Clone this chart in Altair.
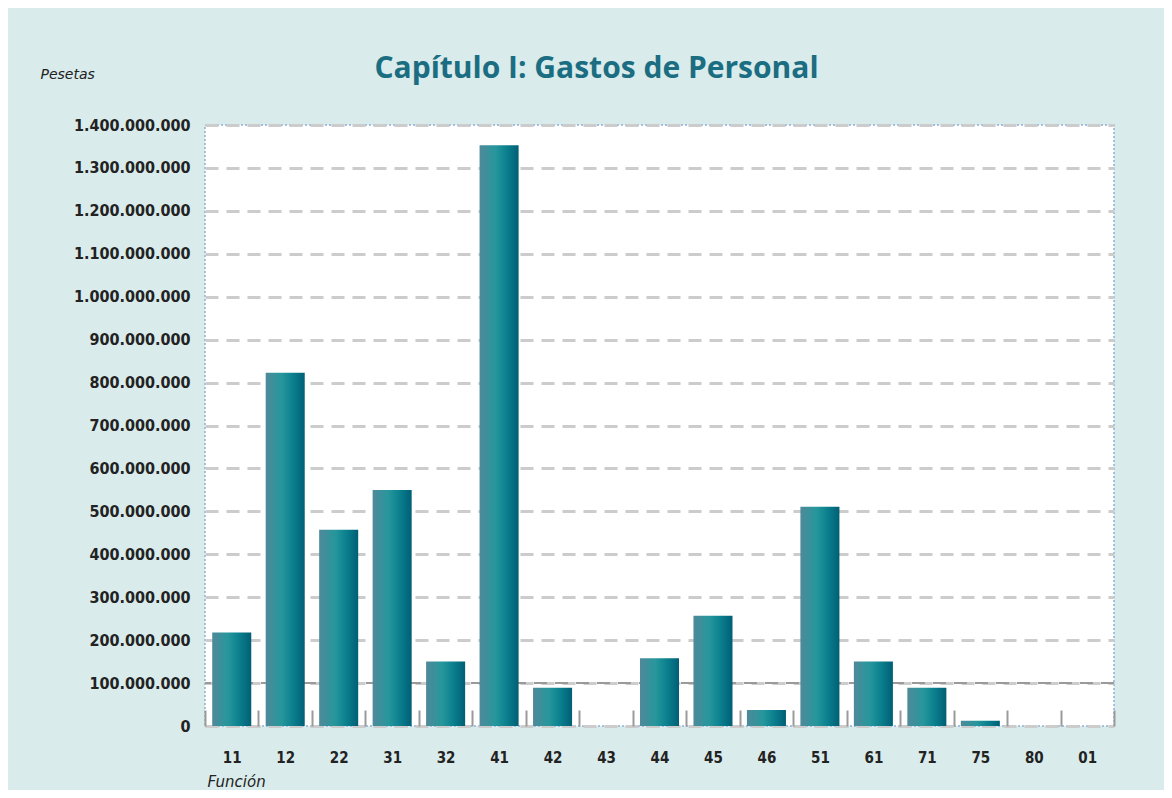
import altair as alt
import pandas as pd

categories = ["11", "12", "22", "31", "32", "41", "42", "43", "44", "45",
              "46", "51", "61", "71", "75", "80", "01"]
values = [218e6, 823e6, 457e6, 550e6, 150e6, 1353e6, 89e6, 0, 158e6, 257e6,
          37e6, 511e6, 150e6, 89e6, 12e6, 0, 0]
y_ticks = [0, 100000000, 200000000, 300000000, 400000000, 500000000,
           600000000, 700000000, 800000000, 900000000, 1000000000,
           1100000000, 1200000000, 1300000000, 1400000000]
highlight_line = [100000000]

df = pd.DataFrame({"funcion": categories, "pesetas": values})
df_rule = pd.DataFrame({"v": highlight_line})

LABEL_FONT = "DejaVu Sans Condensed, DejaVu Sans, sans-serif"

gradient = alt.Gradient(
    gradient="linear",
    stops=[
        alt.GradientStop(color="#50899a", offset=0),
        alt.GradientStop(color="#26979c", offset=0.4),
        alt.GradientStop(color="#0a7f8e", offset=0.7),
        alt.GradientStop(color="#005f74", offset=1),
    ],
    x1=0, x2=1, y1=0, y2=0,
)

x_enc = alt.X(
    "funcion:N",
    sort=categories,
    scale=alt.Scale(paddingInner=0, paddingOuter=0),
    axis=alt.Axis(
        labelAngle=0,
        domain=False,
        grid=False,
        tickBand="extent",
        tickSize=16,
        offset=-16,
        tickColor="#9a9a9a",
        tickWidth=2,
        labelPadding=24,
        labelFont=LABEL_FONT,
        labelFontSize=15,
        labelFontWeight="bold",
        labelColor="#222222",
        title="Función",
        titleX=2,
        titleY=76,
        titleAlign="left",
        titleAnchor="start",
        titleBaseline="alphabetic",
        titleFont="DejaVu Sans, sans-serif",
        titleFontStyle="italic",
        titleFontWeight="normal",
        titleFontSize=15,
        titleColor="#222222",
    ),
)

y_enc = alt.Y(
    "pesetas:Q",
    scale=alt.Scale(domain=[0, 1400000000], nice=False),
    axis=alt.Axis(
        values=y_ticks,
        labelExpr="replace(format(datum.value, ','), regexp(',', 'g'), '.')",
        domain=False,
        ticks=False,
        labelPadding=15,
        labelFont=LABEL_FONT,
        labelFontSize=16,
        labelFontWeight="bold",
        labelColor="#222222",
        gridDash=[13, 8],
        gridColor="#cccccc",
        gridWidth=3,
        title="Pesetas",
        titleAngle=0,
        titleX=-165,
        titleY=-47,
        titleAlign="left",
        titleBaseline="alphabetic",
        titleFont="DejaVu Sans, sans-serif",
        titleFontStyle="italic",
        titleFontWeight="normal",
        titleFontSize=14,
        titleColor="#222222",
    ),
)

rule = alt.Chart(df_rule).mark_rule(
    color="#9a9a9a", strokeDash=[13, 8], strokeWidth=2
).encode(y=alt.Y("v:Q", scale=alt.Scale(domain=[0, 1400000000], nice=False)))

bars = alt.Chart(df).mark_bar(
    fill=gradient, width=alt.RelativeBandSize(0.73)
).encode(x=x_enc, y=y_enc)

chart = (
    alt.layer(rule, bars)
    .properties(
        width=909,
        height=601,
        padding={"left": 197, "top": 117, "right": 50, "bottom": 64},
        autosize=alt.AutoSizeParams(type="none"),
        background="#d9ebeb",
        title=alt.TitleParams(
            text="Capítulo I: Gastos de Personal",
            anchor="middle",
            frame="group",
            dx=-63,
            dy=84,
            offset=43,
            baseline="alphabetic",
            font="Open Sans",
            fontSize=30,
            fontWeight="bold",
            color="#1b6d82",
        ),
    )
    .configure_view(fill="white", stroke="#8fb0d8", strokeDash=[2, 2], strokeWidth=1.5)
)

chart.save("out.html", embed_options={"renderer": "svg", "actions": False})
